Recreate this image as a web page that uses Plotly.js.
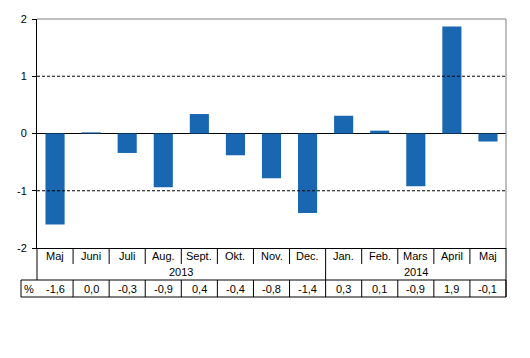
<!DOCTYPE html>
<html>
<head>
<meta charset="utf-8">
<script src="https://cdn.plot.ly/plotly-3.0.1.min.js"></script>
<style>html,body{margin:0;padding:0;background:#fff}#chart{width:530px;height:358px}</style>
</head>
<body>
<div id="chart"></div>
<script>
const months = ["Maj","Juni","Juli","Aug.","Sept.","Okt.","Nov.","Dec.","Jan.","Feb.","Mars","April","Maj"];
const years = ["2013","2013","2013","2013","2013","2013","2013","2013","2014","2014","2014","2014","2014"];
const values = [-1.59, 0.02, -0.34, -0.94, 0.34, -0.38, -0.78, -1.39, 0.31, 0.05, -0.92, 1.87, -0.14];
const tableLabels = ["-1,6","0,0","-0,3","-0,9","0,4","-0,4","-0,8","-1,4","0,3","0,1","-0,9","1,9","-0,1"];
const yearLabels = ["2013","2014"];
const rowLabel = "%";

const keys = months.map((m,i)=> m + " " + years[i]);
const n = keys.length;
const FONT = {family:"Liberation Sans, Arial, sans-serif", size:11, color:"#000"};

// pixel helpers (plot area: 469 x 229 px)
const PH = 229, PW = 469;
const py = px => -px / PH;           // px below plot bottom -> paper y
const yMonth = py(8), yYear = py(24), yRowTop = py(32), yRowBot = py(49), yVal = py(41), yMonthSepEnd = py(16);

const shapes = [];
// dashed gridlines
[1,-1].forEach(v => shapes.push({type:"line",xref:"paper",yref:"y",x0:0,x1:1,y0:v,y1:v,line:{color:"#000",width:1,dash:"3px,2px"}}));
// top and right gray border
shapes.push({type:"line",xref:"paper",yref:"paper",x0:0,x1:1,y0:1,y1:1,line:{color:"#808080",width:1}});
shapes.push({type:"line",xref:"paper",yref:"paper",x0:1,x1:1,y0:0,y1:1,line:{color:"#808080",width:1}});
// left axis extension & right border through table
shapes.push({type:"line",xref:"paper",yref:"paper",x0:0,x1:0,y0:0,y1:yRowTop,line:{color:"#000",width:1}});
shapes.push({type:"line",xref:"paper",yref:"paper",x0:1,x1:1,y0:0,y1:yRowBot,line:{color:"#000",width:1}});
// month separators
for (let k=1;k<n;k++){
  const yearChange = years[k] !== years[k-1];
  shapes.push({type:"line",xref:"x",yref:"paper",x0:k-0.5,x1:k-0.5,y0:0,y1:yearChange?yRowTop:yMonthSepEnd,line:{color:"#000",width:1}});
}
// value row box
shapes.push({type:"rect",xref:"paper",yref:"paper",x0:-16/PW,x1:1,y0:yRowBot,y1:yRowTop,line:{color:"#000",width:1}});
for (let k=1;k<n;k++){
  shapes.push({type:"line",xref:"x",yref:"paper",x0:k-0.5,x1:k-0.5,y0:yRowBot,y1:yRowTop,line:{color:"#000",width:1}});
}

const annotations = [];
keys.forEach((k,i)=>{
  annotations.push({x:i,xref:"x",y:yMonth,yref:"paper",text:months[i],showarrow:false,font:FONT,yanchor:"middle"});
  annotations.push({x:i,xref:"x",y:yVal,yref:"paper",text:tableLabels[i],showarrow:false,font:FONT,yanchor:"middle"});
});
yearLabels.forEach(yr=>{
  const idx = years.map((y,i)=>y===yr?i:-1).filter(i=>i>=0);
  const mid = (idx[0]+idx[idx.length-1])/2;
  annotations.push({x:mid,xref:"x",y:yYear,yref:"paper",text:yr,showarrow:false,font:FONT,yanchor:"middle"});
});
annotations.push({x:-8/PW,xref:"paper",y:yVal,yref:"paper",text:rowLabel,showarrow:false,font:FONT,yanchor:"middle",xanchor:"center"});

const trace = {type:"bar",x:keys,y:values,marker:{color:"#1967b1",line:{width:0}},width:0.53,hoverinfo:"none"};

const layout = {
  width:530,height:358,
  margin:{l:37,r:24,t:19,b:110,pad:0},
  paper_bgcolor:"#fff",plot_bgcolor:"#fff",
  showlegend:false,
  font:FONT,
  xaxis:{type:"category",categoryorder:"array",categoryarray:keys,range:[-0.5,n-0.5],showticklabels:false,ticks:"",showgrid:false,zeroline:false,showline:true,linecolor:"#000",linewidth:1,fixedrange:true},
  yaxis:{range:[-2,2],tickvals:[-2,-1,0,1,2],ticktext:["-2","-1","0","1","2"],ticks:"outside",ticklen:4,tickcolor:"#000",tickwidth:1,showline:true,linecolor:"#000",linewidth:1,showgrid:false,zeroline:true,zerolinecolor:"#000",zerolinewidth:1,tickfont:FONT,ticklabelstandoff:3,fixedrange:true},
  shapes:shapes,
  annotations:annotations
};
Plotly.newPlot("chart",[trace],layout,{displayModeBar:false,staticPlot:true});
</script>
</body>
</html>
